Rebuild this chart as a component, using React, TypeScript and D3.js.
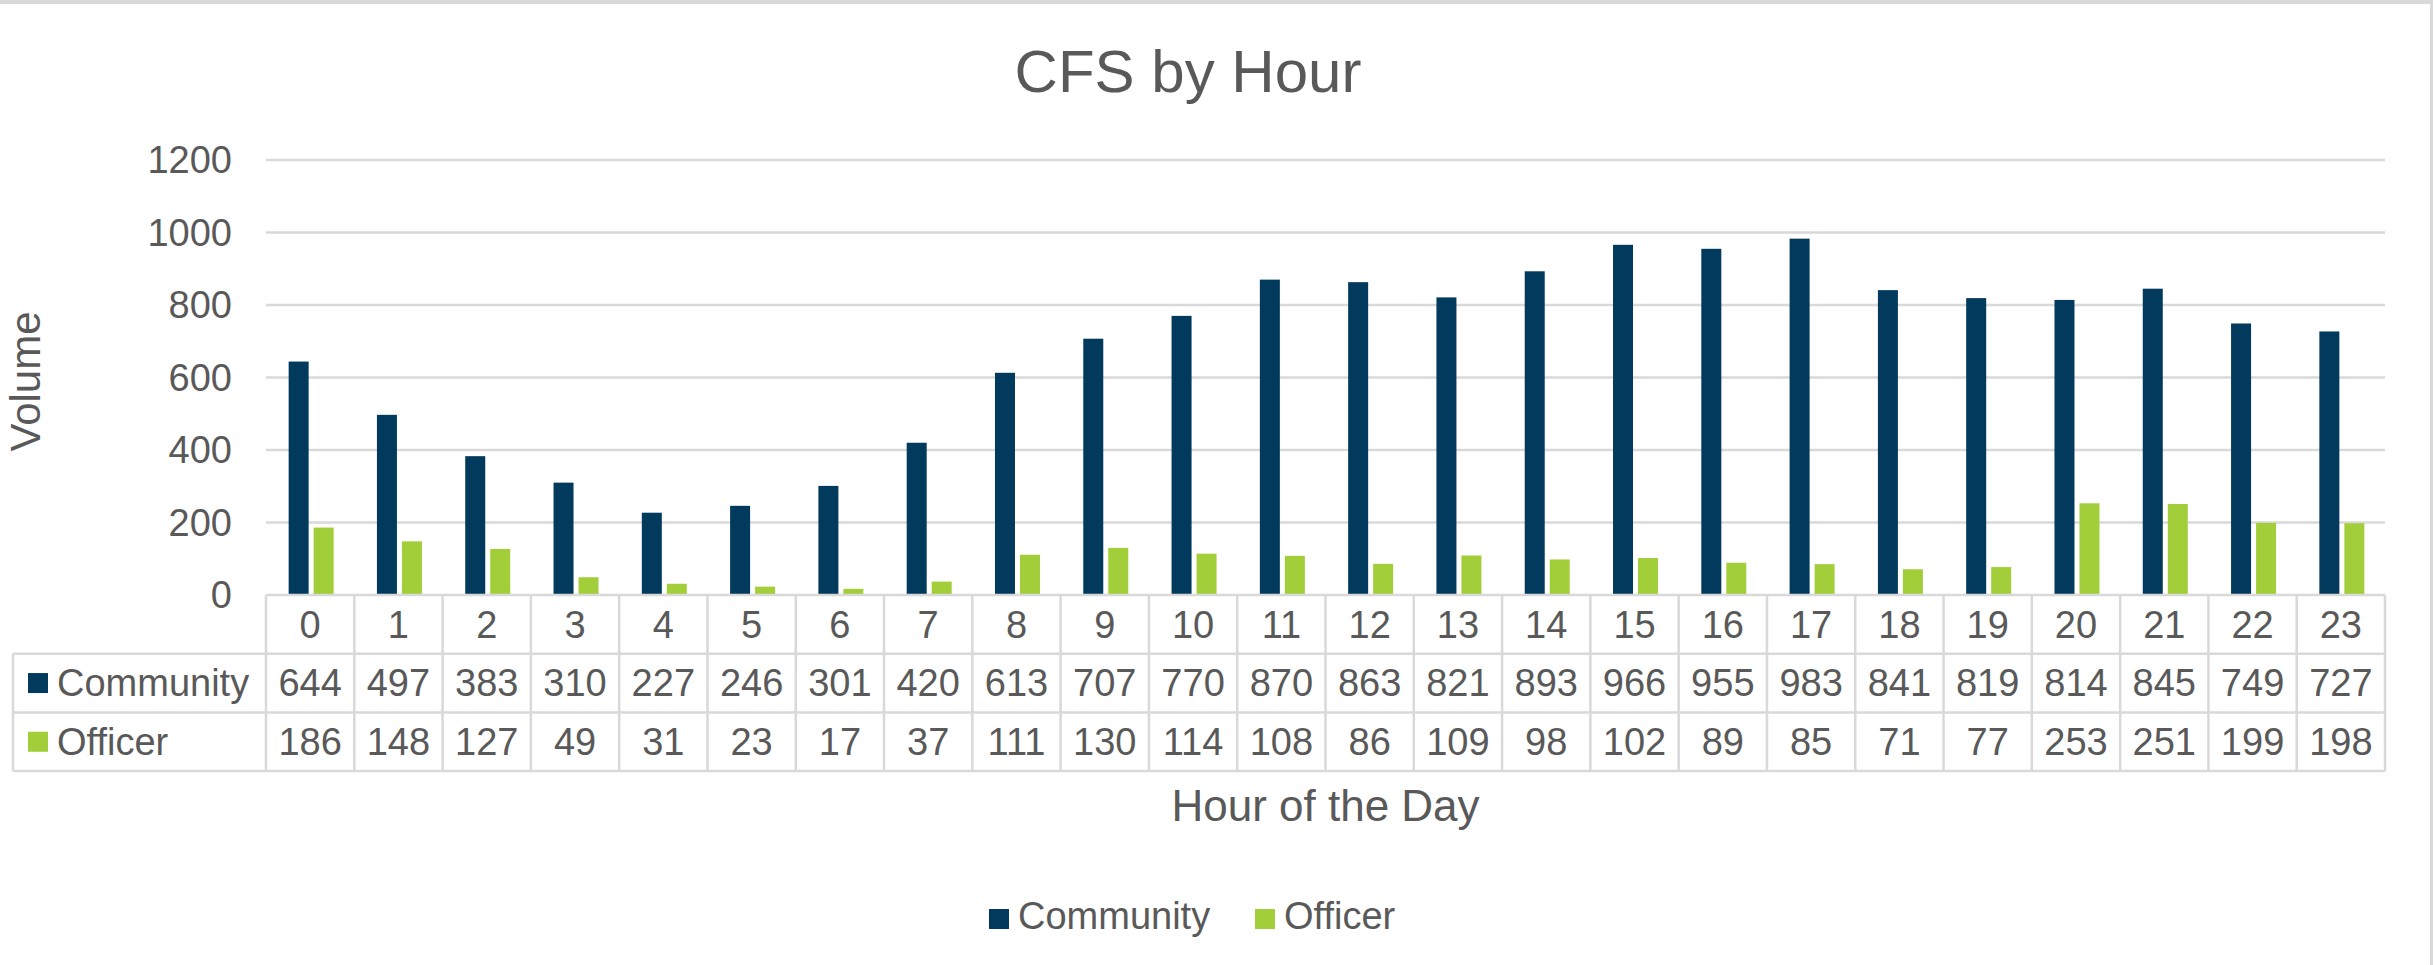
import React from 'react';
import * as d3 from 'd3';

const hours = ['0', '1', '2', '3', '4', '5', '6', '7', '8', '9', '10', '11', '12', '13', '14', '15', '16', '17', '18', '19', '20', '21', '22', '23'];
const community = [644, 497, 383, 310, 227, 246, 301, 420, 613, 707, 770, 870, 863, 821, 893, 966, 955, 983, 841, 819, 814, 845, 749, 727];
const officer = [186, 148, 127, 49, 31, 23, 17, 37, 111, 130, 114, 108, 86, 109, 98, 102, 89, 85, 71, 77, 253, 251, 199, 198];
const seriesNames = ['Community', 'Officer'];
const seriesColors = ['#023a5d', '#a2ce3a'];
const yTicks = [0, 200, 400, 600, 800, 1000, 1200];

const W = 2433;
const H = 965;
const FONT = "'Liberation Sans', Arial, sans-serif";
const TEXT = '#595959';
const LINE = '#d9d9d9';

const App = () => {
  const left = 266;
  const right = 2385;
  const top = 160;
  const bottom = 595;
  const rowH = 58.7;
  const tableLeft = 13;

  const x = d3.scaleBand().domain(hours).range([left, right]).padding(0);
  const y = d3.scaleLinear().domain([0, 1200]).range([bottom, top]);
  const xSub = d3.scaleBand().domain(seriesNames).range([0, 45]).paddingInner(0.2);
  const subStart = x.bandwidth() / 2 - 21.5;

  const values = [community, officer];
  const rowY = [bottom, bottom + rowH, bottom + 2 * rowH, bottom + 3 * rowH];

  return (
    <>
      <style>{`body { margin: 0; }`}</style>
      <svg width={W} height={H} style={{ display: 'block', background: '#fff' }} fontFamily={FONT}>
        {/* chart frame (top and right edges visible) */}
        <line x1={0} x2={W} y1={2} y2={2} stroke={LINE} strokeWidth={4} />
        <line x1={W - 1.5} x2={W - 1.5} y1={0} y2={H} stroke={LINE} strokeWidth={3} />

        <text x={1188} y={92} textAnchor="middle" fontSize={60} fill={TEXT}>
          CFS by Hour
        </text>

        {/* gridlines + y ticks */}
        {yTicks.map(t => (
          <g key={t}>
            {t > 0 && (
              <line x1={left} x2={right} y1={y(t)} y2={y(t)} stroke={LINE} strokeWidth={2.5} />
            )}
            <text x={232} y={y(t)} dy="0.35em" textAnchor="end" fontSize={38} fill={TEXT}>
              {t}
            </text>
          </g>
        ))}

        <text
          transform={`translate(40,${(top + bottom) / 2 + 4}) rotate(-90)`}
          textAnchor="middle"
          fontSize={42}
          fill={TEXT}
        >
          Volume
        </text>

        {/* bars */}
        {hours.map((h, i) => (
          <g key={h}>
            {seriesNames.map((s, j) => (
              <rect
                key={s}
                x={x(h)! + subStart + xSub(s)!}
                y={y(values[j][i])}
                width={xSub.bandwidth()}
                height={bottom - y(values[j][i])}
                fill={seriesColors[j]}
              />
            ))}
          </g>
        ))}

        {/* data table */}
        <line x1={left} x2={right} y1={rowY[0]} y2={rowY[0]} stroke={LINE} strokeWidth={2.5} />
        {[1, 2, 3].map(r => (
          <line key={r} x1={tableLeft} x2={right} y1={rowY[r]} y2={rowY[r]} stroke={LINE} strokeWidth={2.5} />
        ))}
        <line x1={tableLeft} x2={tableLeft} y1={rowY[1]} y2={rowY[3]} stroke={LINE} strokeWidth={2.5} />
        {hours.map(h => (
          <line key={h} x1={x(h)!} x2={x(h)!} y1={rowY[0]} y2={rowY[3]} stroke={LINE} strokeWidth={2.5} />
        ))}
        <line x1={right} x2={right} y1={rowY[0]} y2={rowY[3]} stroke={LINE} strokeWidth={2.5} />

        {hours.map(h => (
          <text
            key={h}
            x={x(h)! + x.bandwidth() / 2}
            y={(rowY[0] + rowY[1]) / 2}
            dy="0.35em"
            textAnchor="middle"
            fontSize={38}
            fill={TEXT}
          >
            {h}
          </text>
        ))}

        {seriesNames.map((s, j) => {
          const cy = (rowY[j + 1] + rowY[j + 2]) / 2;
          return (
            <g key={s}>
              <rect x={28} y={cy - 10} width={20} height={20} fill={seriesColors[j]} />
              <text x={57} y={cy} dy="0.35em" fontSize={38} fill={TEXT}>
                {s}
              </text>
              {hours.map((h, i) => (
                <text
                  key={h}
                  x={x(h)! + x.bandwidth() / 2}
                  y={cy}
                  dy="0.35em"
                  textAnchor="middle"
                  fontSize={38}
                  fill={TEXT}
                >
                  {values[j][i]}
                </text>
              ))}
            </g>
          );
        })}

        <text x={(left + right) / 2} y={821} textAnchor="middle" fontSize={44} fill={TEXT}>
          Hour of the Day
        </text>

        {/* legend */}
        {seriesNames.map((s, j) => {
          const lx = [989, 1255][j];
          return (
            <g key={s}>
              <rect x={lx} y={909} width={20} height={20} fill={seriesColors[j]} />
              <text x={lx + 29} y={929} fontSize={38} fill={TEXT}>
                {s}
              </text>
            </g>
          );
        })}
      </svg>
    </>
  );
};

export default App;
